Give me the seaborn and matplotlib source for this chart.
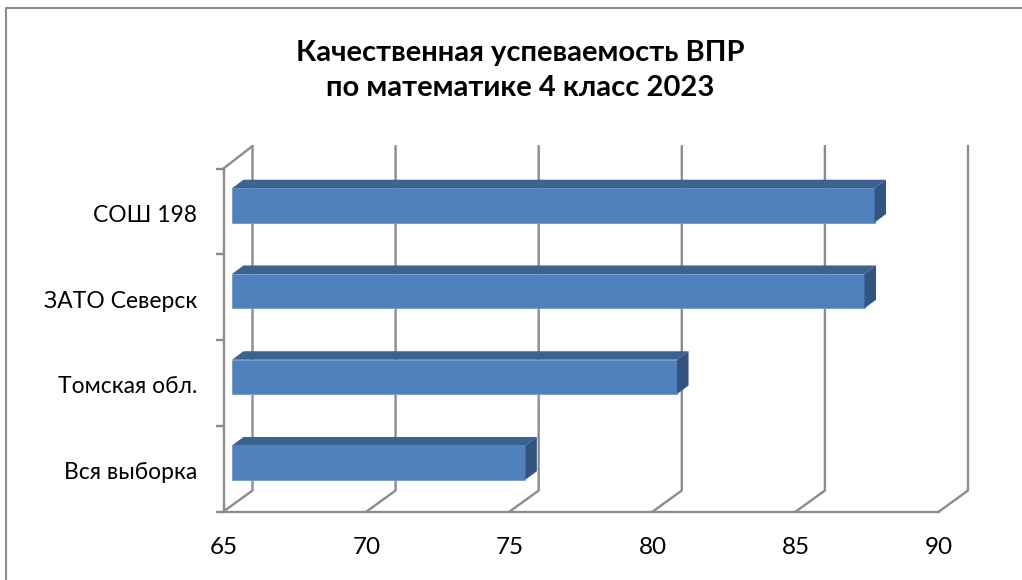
import pandas as pd
import seaborn as sns
import matplotlib.pyplot as plt
from matplotlib.lines import Line2D
from matplotlib.patches import Polygon
from matplotlib.transforms import Affine2D

categories = ["СОШ 198", "ЗАТО Северск", "Томская обл.", "Вся выборка"]
values = [87.45, 87.1, 80.55, 75.25]
xticks = [65, 70, 75, 80, 85, 90]
title = "Качественная успеваемость ВПР\nпо математике 4 класс 2023"

W, H = 1022, 580
# pixel layout of the fake 3D box
LEFT, RIGHT, TOP, BOTTOM = 223.5, 939, 168.5, 511.5
WALL_DX, WALL_DY = 29, 21
WALL_TOP = 146
BAR_DX, BAR_DY = 8.5, 6   # bars stand a bit behind the front plane
SIDE_DX, SIDE_DY = 11.5, 8.5
GREY = "#8c8c8c"

sns.set_theme(style="white")
plt.rcParams["font.family"] = ["Lato", "Noto Sans", "DejaVu Sans"]

fig = plt.figure(figsize=(W / 100, H / 100), dpi=100, facecolor="white")
ax = fig.add_axes([LEFT / W, 1 - BOTTOM / H, (RIGHT - LEFT) / W, (BOTTOM - TOP) / H])
ax.patch.set_alpha(0)

df = pd.DataFrame({"group": categories, "value": values})
sns.barplot(data=df, x="value", y="group", orient="h", color="#4f81bd", saturation=1,
            width=0.4, ax=ax, zorder=3)

ax.set_xlim(xticks[0], xticks[-1])
ax.set_ylim(len(categories) - 0.5, -0.5)
ax.set_xticks(xticks)
ax.set_xlabel("")
ax.set_ylabel("")
ax.tick_params(axis="x", length=6, width=1.7, color=GREY, labelsize=17.5, labelcolor="black", pad=12.5)
ax.tick_params(axis="y", length=6, width=1.7, color=GREY, labelsize=16.5, labelcolor="black", pad=13)
ax.set_yticks([i - 0.5 for i in range(len(categories) + 1)], minor=True)
ax.tick_params(axis="y", which="minor", left=True, length=6, width=1.7, color=GREY)
ax.tick_params(axis="y", which="major", left=False)
for label in ax.get_yticklabels():
    label.set_transform(label.get_transform() + Affine2D().translate(0, -2))
for side in ["top", "right"]:
    ax.spines[side].set_visible(False)
for side in ["left", "bottom"]:
    ax.spines[side].set_color(GREY)
    ax.spines[side].set_linewidth(1.7)

# back wall and floor lines, in pixels from the top left corner
to_px = Affine2D().scale(1, -1).translate(0, H)


def grey_line(xs, ys, lw=1.7):
    ax.add_line(Line2D(xs, ys, color=GREY, lw=lw, transform=to_px, clip_on=False, zorder=1))


for tick in xticks:
    x = ax.transData.transform((tick, 0))[0]
    grey_line([x, x + WALL_DX, x + WALL_DX], [BOTTOM, BOTTOM - WALL_DY, WALL_TOP])
grey_line([LEFT, LEFT + WALL_DX], [TOP, WALL_TOP])

# shift the flat bars back and add top and side faces
shift = Affine2D().translate(BAR_DX, BAR_DY)
for bar in ax.patches[:len(values)]:
    # seaborn starts bars at zero, the axis here starts at 65
    end = bar.get_x() + bar.get_width()
    bar.set_x(xticks[0])
    bar.set_width(end - xticks[0])
    bar.set_transform(ax.transData + shift)
    bar.set_clip_on(False)
    bar.set_edgecolor("#6f9bd0")
    bar.set_linewidth(0.6)
    x0, y0 = (ax.transData + shift).transform((xticks[0], bar.get_y()))
    x1, y1 = (ax.transData + shift).transform((end, bar.get_y() + bar.get_height()))
    # y axis is inverted so y0 is the top edge of the bar on screen
    top_face = [(x0, y0), (x1, y0), (x1 + SIDE_DX, y0 + SIDE_DY), (x0 + SIDE_DX, y0 + SIDE_DY)]
    side_face = [(x1, y0), (x1 + SIDE_DX, y0 + SIDE_DY), (x1 + SIDE_DX, y1 + SIDE_DY), (x1, y1)]
    ax.add_patch(Polygon(top_face, closed=True, fc="#3e628f", ec="none", transform=None, clip_on=False, zorder=3))
    ax.add_patch(Polygon(side_face, closed=True, fc="#34547f", ec="none", transform=None, clip_on=False, zorder=3))

# outer chart frame, only left and top are inside the crop
fig.add_artist(Line2D([6 / W, 6 / W, 1], [0, 1 - 7.5 / H, 1 - 7.5 / H], color=GREY, lw=1.5))

fig.text(0.509, 1 - 70.5 / H, title, ha="center", va="center", fontsize=21, fontweight="bold",
         color="black", linespacing=1.45)

fig.savefig("out.png", dpi=100)
